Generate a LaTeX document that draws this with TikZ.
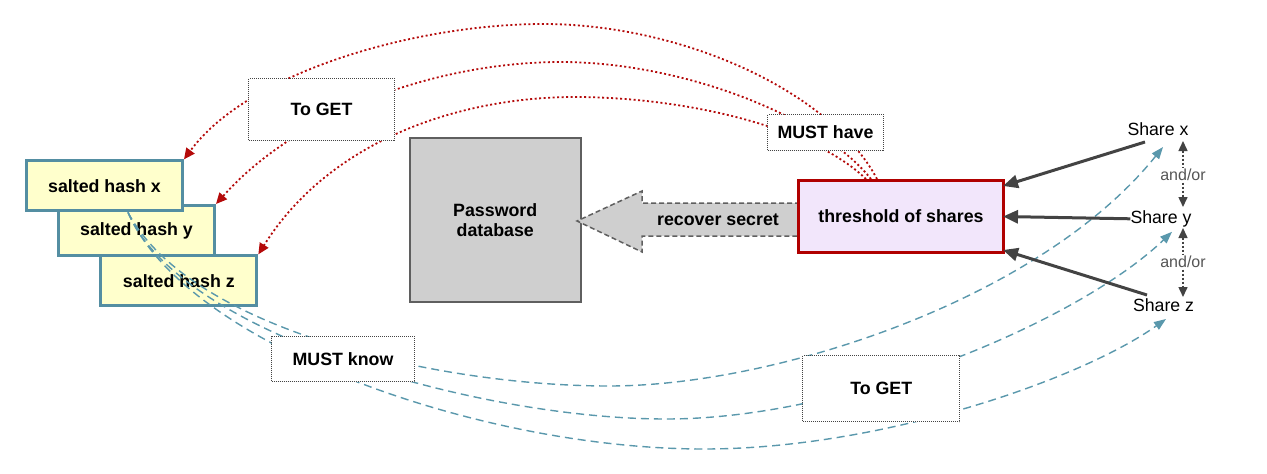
\documentclass[tikz,border=0pt]{standalone}
\usepackage{fontspec}
\setmainfont{Liberation Sans}
\usetikzlibrary{arrows.meta,calc}
\definecolor{hashfill}{HTML}{FFFFCC}
\definecolor{hashline}{RGB}{84,142,162}
\definecolor{blueline}{RGB}{90,152,172}
\definecolor{redline}{RGB}{180,10,10}
\definecolor{thrline}{HTML}{B00000}
\definecolor{thrfill}{HTML}{F2E6FB}
\definecolor{dbfill}{HTML}{CFCFCF}
\definecolor{dbline}{HTML}{5F5F5F}
\definecolor{dotgray}{HTML}{444444}
\definecolor{arrgray}{HTML}{434343}
\definecolor{orgray}{HTML}{555555}
\newcommand\lblfont{\bfseries\fontsize{17.8}{20}\selectfont}
\newcommand\sharefont{\fontsize{17.7}{20}\selectfont}
\begin{document}
\begin{tikzpicture}[x=1pt,y=-1pt,
  hashbox/.style={draw=hashline, line width=3pt, fill=hashfill, minimum width=156pt, minimum height=50pt, inner sep=0pt, font=\lblfont},
  labbox/.style={draw=dotgray, line width=1pt, dash pattern=on 1pt off 1pt, fill=white, inner sep=0pt, font=\lblfont},
  redcurve/.style={draw=redline, line width=1.8pt, dash pattern=on 2pt off 2.5pt, -{Triangle[length=11pt,width=10pt]}},
  bluecurve/.style={draw=blueline, line width=1.4pt, dash pattern=on 8pt off 5pt, -{Triangle[length=12pt,width=9pt]}},
  sharelbl/.style={inner sep=0pt, font=\sharefont, text height=13pt, text depth=4pt},
  grayarrow/.style={draw=arrgray, line width=3pt, -{Triangle[length=15pt,width=13pt]}},
  orarrow/.style={draw=arrgray, line width=1.5pt, dash pattern=on 2pt off 2pt, {Triangle[length=10pt,width=9pt]}-{Triangle[length=10pt,width=9pt]}},
  orlbl/.style={fill=white, inner sep=1pt, text=orgray, font=\fontsize{16}{18}\selectfont}
]
\useasboundingbox (0,0) rectangle (1267,474);

% hash boxes (z under y under x)
\node[hashbox] (hz) at (178.85,280.85) {salted hash z};
\node[hashbox] (hy) at (136.5,230.5) {salted hash y};
\node[hashbox] (hx) at (104.5,185.85) {salted hash x};

% password database
\node[draw=dbline, line width=1.5pt, fill=dbfill, minimum width=171pt, minimum height=164pt, inner sep=0pt, align=center, font=\lblfont] (db) at (495.25,219.75) {Password\\database};

% recover secret arrow
\draw[fill=dbfill, draw=dbline, line width=1.5pt, dash pattern=on 5pt off 3pt]
  (800,203) -- (642,203) -- (642,191) -- (577,221) -- (642,252) -- (642,236) -- (800,236) -- cycle;
\node[font=\lblfont, inner sep=0pt] (rs) at (718,220) {recover secret};

% threshold
\node[draw=thrline, line width=3pt, fill=thrfill, minimum width=205pt, minimum height=72pt, inner sep=0pt, font=\lblfont] (thr) at (901,216.5) {threshold of shares};

% shares
\node[sharelbl] (sx) at (1158,130.5) {Share x};
\node[sharelbl] (sy) at (1161,218.8) {Share y};
\node[sharelbl] (sz) at (1163.5,307) {Share z};

% red dotted curves
\draw[redcurve] ([xshift=-24pt]thr.north) .. controls (830,90) and (680,24) .. (543,24)
  .. controls (420,24) and (250,70) .. (hx.north east);
\draw[redcurve] ([xshift=-30pt]thr.north) .. controls (820,115) and (680,62) .. (561,62)
  .. controls (440,62) and (300,110) .. (hy.north east);
\draw[redcurve] ([xshift=-35pt]thr.north) .. controls (810,125) and (680,97) .. (575,97)
  .. controls (460,97) and (330,140) .. (hz.north east);

% blue dashed curves
\draw[bluecurve] ([xshift=23.5pt]hx.south) .. controls (190,330) and (440,386) .. (609,386)
  .. controls (775,386) and (1040,300) .. ([shift={(5,16.5)}]sx.center);
\draw[bluecurve] ([xshift=23.5pt]hx.south) .. controls (180,335) and (480,419) .. (666,419)
  .. controls (850,419) and (1080,320) .. ([shift={(11,13)}]sy.center);
\draw[bluecurve] ([xshift=23.5pt]hx.south) .. controls (185,345) and (480,449) .. (704,449)
  .. controls (880,449) and (1080,380) .. ([shift={(2.5,12)}]sz.center);

% dotted label boxes
\node[labbox, minimum width=146pt, minimum height=62pt] (tg1) at (321.5,109.5) {To GET};
\node[labbox, minimum width=116pt, minimum height=36pt] (mh) at (825.5,132.5) {MUST have};
\node[labbox, minimum width=143pt, minimum height=45pt] (mk) at (343,359) {MUST know};
\node[labbox, minimum width=157pt, minimum height=66pt] (tg2) at (881.25,388.5) {To GET};

% share arrows
\draw[grayarrow] ([shift={(-13,11.5)}]sx.center) -- ([shift={(-2,7)}]thr.north east);
\draw[grayarrow] (sy.west) -- ([xshift=-2pt]thr.east);
\draw[grayarrow] ([shift={(-16.5,-12)}]sz.center) -- ([shift={(-2,-4)}]thr.south east);

% and/or arrows
\coordinate (o1t) at (1183,141);
\coordinate (o1b) at (1183,207);
\coordinate (o2t) at (1183,228);
\coordinate (o2b) at (1183,297);
\draw[orarrow] (o1t) -- (o1b);
\draw[orarrow] (o2t) -- (o2b);
\node[orlbl] (or1) at (1183,175) {and/or};
\node[orlbl] (or2) at (1183,262) {and/or};
\end{tikzpicture}
\end{document}
